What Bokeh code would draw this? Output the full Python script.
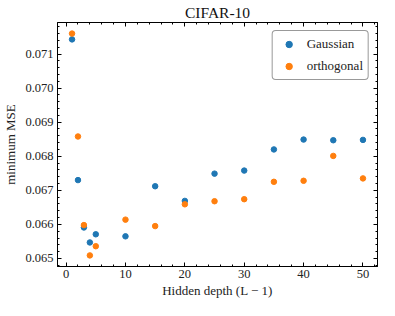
from bokeh.plotting import figure
from bokeh.models import (LinearAxis, SingleIntervalTicker, PrintfTickFormatter,
                          Range1d, Legend, LegendItem)
from bokeh.embed import file_html
from bokeh.resources import INLINE

# ---- data ----
depth = [1, 2, 3, 4, 5, 10, 15, 20, 25, 30, 35, 40, 45, 50]
gaussian = [0.07143, 0.06730, 0.06591, 0.06547, 0.06571, 0.06565, 0.06712,
            0.06669, 0.06749, 0.06758, 0.06820, 0.06849, 0.06847, 0.06848]
orthogonal = [0.07160, 0.06858, 0.06598, 0.06509, 0.06536, 0.06614, 0.06595,
              0.06659, 0.06668, 0.06674, 0.06725, 0.06728, 0.06801, 0.06735]
series_names = ["Gaussian", "orthogonal"]
colors = ["#1f77b4", "#ff7f0e"]

FONT = "Liberation Serif"

# matplotlib-like 5% margins
xmin, xmax = min(depth), max(depth)
xpad = 0.05 * (xmax - xmin)
allv = gaussian + orthogonal
ymin, ymax = min(allv), max(allv)
ypad = 0.05 * (ymax - ymin)

p = figure(width=379, height=300, output_backend="svg", toolbar_location=None,
           x_range=Range1d(xmin - xpad, xmax + xpad),
           y_range=Range1d(ymin - ypad, ymax + ypad),
           x_axis_label="Hidden depth (L \u2212 1)", y_axis_label="minimum MSE",
           title="CIFAR-10")
p.min_border_left = 48
p.min_border_right = 2
p.min_border_bottom = 34
p.min_border_top = 0

p.title.align = "center"
p.title.text_font = FONT
p.title.text_font_size = "15.5px"
p.title.text_font_style = "normal"
p.title.text_color = "#111111"
p.title.standoff = 3

p.xgrid.grid_line_color = None
p.ygrid.grid_line_color = None
p.outline_line_color = "black"
p.outline_line_width = 1
p.background_fill_color = "white"
p.border_fill_color = "white"

xt = SingleIntervalTicker(interval=10, num_minor_ticks=5)
yt = SingleIntervalTicker(interval=0.001, num_minor_ticks=5)

def style_axis(ax, ticker, labels=True):
    ax.ticker = ticker
    ax.axis_line_color = "black"
    ax.major_tick_line_color = "black"
    ax.minor_tick_line_color = "black"
    ax.major_tick_in = 4
    ax.major_tick_out = 0
    ax.minor_tick_in = 2
    ax.minor_tick_out = 0
    ax.major_label_text_font = FONT
    ax.major_label_text_font_size = "12.5px"
    ax.major_label_text_color = "#222222"
    ax.axis_label_text_font = FONT
    ax.axis_label_text_font_size = "13px"
    ax.axis_label_text_font_style = "normal"
    ax.axis_label_text_color = "#222222"
    if not labels:
        ax.major_label_text_color = None
        ax.major_label_text_font_size = "1px"
        ax.major_label_standoff = 0
        ax.axis_label = None

xa = p.xaxis[0]
ya = p.yaxis[0]
style_axis(xa, xt)
style_axis(ya, yt)
xa.major_label_standoff = 3
xa.axis_label_standoff = 2
ya.major_label_standoff = 4
ya.axis_label_standoff = 4
ya.formatter = PrintfTickFormatter(format="%.3f")

top = LinearAxis()
style_axis(top, SingleIntervalTicker(interval=10, num_minor_ticks=5), labels=False)
p.add_layout(top, "above")
right = LinearAxis()
style_axis(right, SingleIntervalTicker(interval=0.001, num_minor_ticks=5), labels=False)
p.add_layout(right, "right")

r1 = p.scatter(depth, gaussian, size=5.5, fill_color=colors[0], line_color=colors[0])
r2 = p.scatter(depth, orthogonal, size=5.5, fill_color=colors[1], line_color=colors[1])

legend = Legend(items=[LegendItem(label=series_names[0], renderers=[r1]),
                       LegendItem(label=series_names[1], renderers=[r2])],
                location="top_right")
legend.margin = 8
legend.padding = 5
legend.spacing = 6
legend.glyph_width = 22
legend.glyph_height = 16
legend.label_height = 16
legend.label_standoff = 7
legend.label_text_font = FONT
legend.label_text_font_size = "13px"
legend.label_text_color = "#222222"
legend.border_line_color = "#333333"
legend.border_line_width = 1
legend.background_fill_color = "white"
legend.background_fill_alpha = 1.0
try:
    legend.border_radius = 4
except Exception:
    pass
p.add_layout(legend, "center")

open("out.html", "w").write(file_html(p, INLINE))
